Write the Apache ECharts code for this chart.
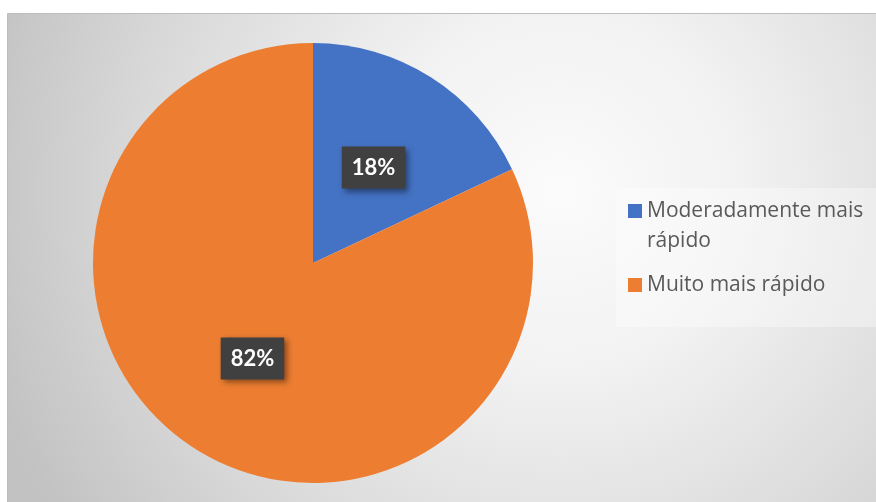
<!DOCTYPE html>
<html>
<head>
<meta charset="utf-8">
<script src="https://cdn.jsdelivr.net/npm/echarts@6/dist/echarts.min.js"></script>
<style>
  html, body { margin: 0; padding: 0; background: #ffffff; }
  #chart { width: 876px; height: 502px; }
</style>
</head>
<body>
<div id="chart"></div>
<script>
// Share of answers per category (percent)
const categories = ['Moderadamente mais rápido', 'Muito mais rápido'];
const shares = [18, 82];
const colors = ['#4472C4', '#ED7D31'];

const chart = echarts.init(document.getElementById('chart'), null, { renderer: 'canvas' });

const pieData = categories.map((name, i) => ({
  name: name,
  value: shares[i],
  itemStyle: { color: colors[i] }
}));

chart.setOption({
  animation: false,
  graphic: [
    {
      // chart area with soft radial fill
      type: 'rect',
      z: -20,
      shape: { x: 7.5, y: 13.5, width: 900, height: 520 },
      style: {
        fill: new echarts.graphic.RadialGradient(560, 190, 600, [
          { offset: 0, color: '#fbfbfb' },
          { offset: 0.3, color: '#f2f2f2' },
          { offset: 0.7, color: '#d9d9d9' },
          { offset: 1, color: '#c2c2c2' }
        ], true),
        stroke: '#bdbdbd',
        lineWidth: 1
      },
      silent: true
    },
    {
      // legend panel
      type: 'rect',
      z: -10,
      shape: { x: 616, y: 188, width: 270, height: 139 },
      style: { fill: 'rgba(255,255,255,0.35)' },
      silent: true
    }
  ],
  legend: {
    orient: 'vertical',
    left: 628,
    top: 166,
    padding: 0,
    itemWidth: 14,
    itemHeight: 14,
    itemGap: 14,
    icon: 'rect',
    data: categories,
    // wrapped name: a leading blank line keeps the first line level with the swatch
    formatter: function (name) {
      return name === 'Moderadamente mais rápido' ? '\nModeradamente mais\nrápido' : name;
    },
    textStyle: {
      fontFamily: 'Open Sans',
      fontSize: 21,
      lineHeight: 30,
      color: '#595959'
    },
    selectedMode: false
  },
  series: [
    {
      type: 'pie',
      center: [313, 263],
      radius: [0, 220],
      startAngle: 90,
      clockwise: true,
      silent: true,
      data: pieData,
      label: {
        show: true,
        position: 'inside',
        formatter: '{c}%',
        fontFamily: 'Lato',
        fontWeight: 'bold',
        fontSize: 22,
        lineHeight: 22,
        color: '#ffffff',
        backgroundColor: '#404040',
        padding: [10, 10, 10, 10],
        shadowColor: 'rgba(0,0,0,0.45)',
        shadowBlur: 6,
        shadowOffsetX: 3,
        shadowOffsetY: 3
      },
      labelLine: { show: false },
      emphasis: { disabled: true }
    }
  ]
});
</script>
</body>
</html>
